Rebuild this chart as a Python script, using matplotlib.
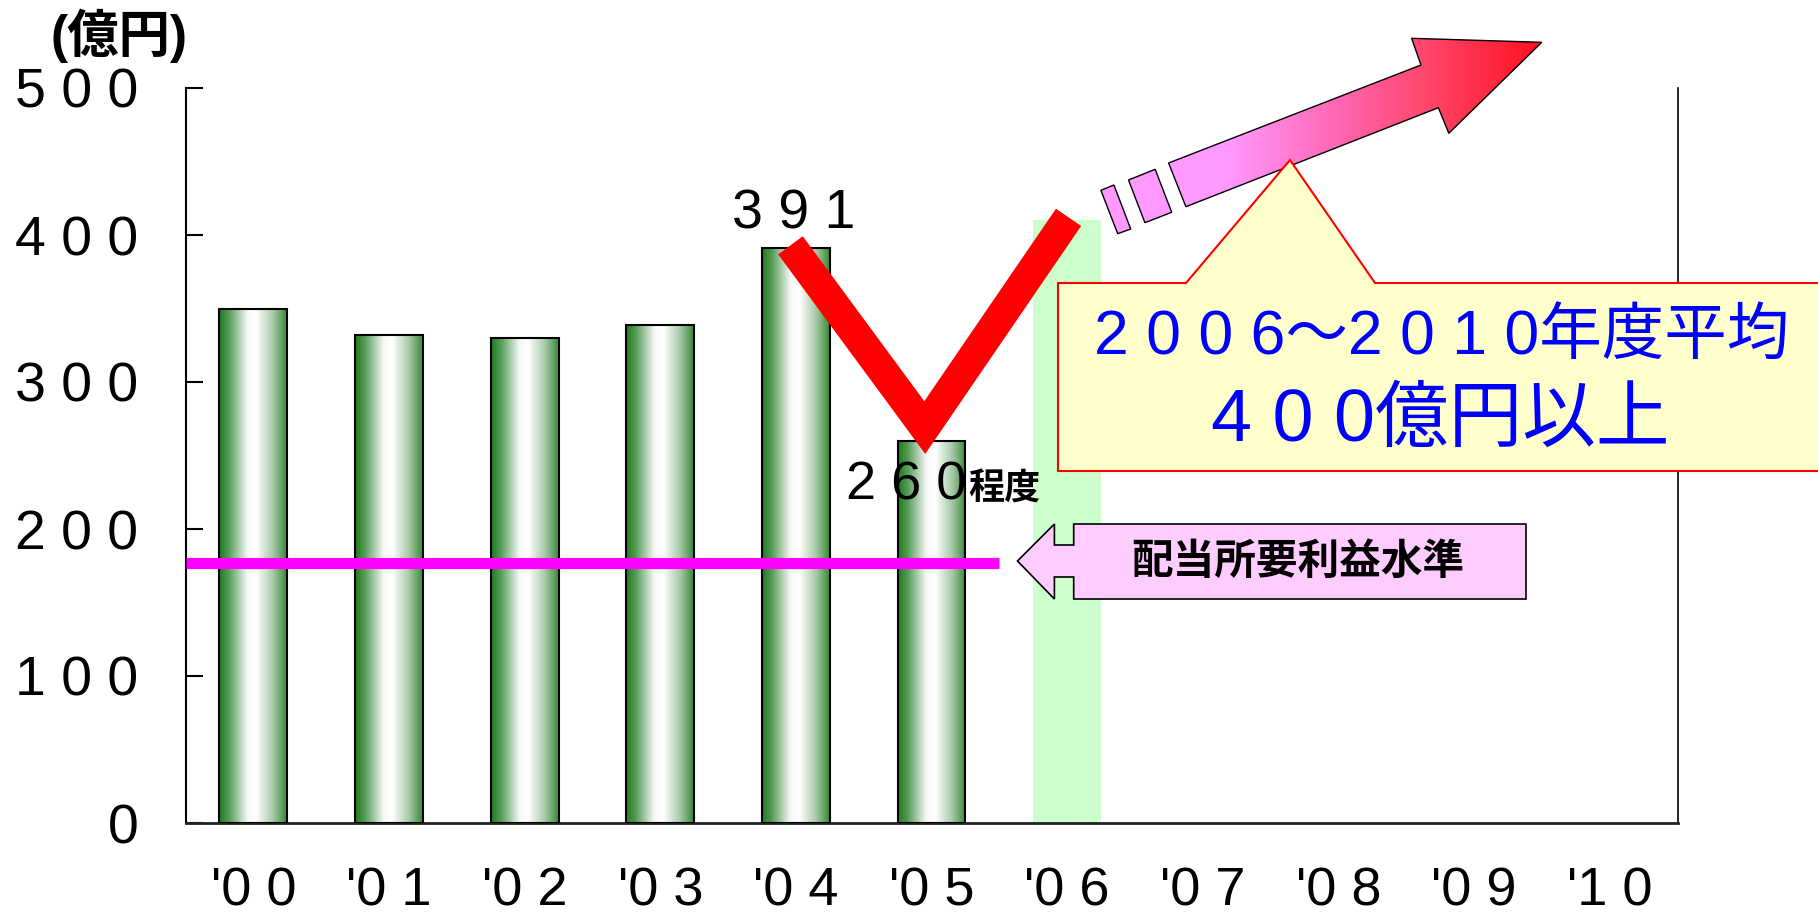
import numpy as np
import matplotlib
matplotlib.use("Agg")
import matplotlib.pyplot as plt
from matplotlib.colors import LinearSegmentedColormap
from matplotlib.patches import Polygon
from matplotlib.ticker import FuncFormatter, MultipleLocator

plt.rcParams["font.family"] = ["Liberation Sans", "Noto Sans CJK JP"]

# fiscal years and profit (億円)
years = ["00", "01", "02", "03", "04", "05", "06", "07", "08", "09", "10"]
profits = [350, 332, 330, 339, 391, 260]
target_2006 = 410
dividend_level = 177

W, H = 1818, 919


def spaced(s):
    return " ".join(s)


fig = plt.figure(figsize=(W / 100, H / 100), dpi=100)
ax = fig.add_axes([185.5 / W, 1 - 823 / H, (1677.6 - 185.5) / W, (823 - 88) / H])

xs = np.arange(len(years))

# 2006 target slot
ax.bar(xs[6], target_2006, width=0.5, color="#CCFFCC", edgecolor="none", zorder=1)

# cylinder-shaded bars
bar_cmap = LinearSegmentedColormap.from_list("cyl", [
    (0.0, "#1C7A1C"), (0.15, "#5A9E5A"), (0.42, "#F6F9F6"),
    (0.55, "#FFFFFF"), (0.8, "#A6C8A6"), (1.0, "#358A35")])
grad = np.linspace(0, 1, 256).reshape(1, -1)
bars = ax.bar(xs[:len(profits)], profits, width=0.5, facecolor="none",
              edgecolor="black", linewidth=1.5, zorder=3)
for bar in bars:
    x0 = bar.get_x()
    ax.imshow(grad, cmap=bar_cmap, extent=(x0, x0 + bar.get_width(), 0, bar.get_height()),
              aspect="auto", interpolation="bicubic", zorder=2)

# dividend requirement line
ax.plot([-0.5, 5.5], [dividend_level, dividend_level], color="#FF00FF", lw=8,
        solid_capstyle="butt", zorder=4)

# V-shaped recovery mark
ax.plot([3.96, 4.95, 6.01], [393, 269, 412], color="#FF0000", lw=22,
        solid_capstyle="butt", solid_joinstyle="miter", zorder=5)

ax.annotate(spaced(str(profits[4])), xy=(4, profits[4]), xytext=(-2, 20),
            textcoords="offset pixels", ha="center", va="baseline", fontsize=40)
ax.annotate(spaced(str(profits[5])), xy=(5, profits[5]), xytext=(35, -59),
            textcoords="offset pixels", ha="right", va="baseline", fontsize=39, zorder=6)
ax.annotate("程度", xy=(5, profits[5]), xytext=(37, -59),
            textcoords="offset pixels", ha="left", va="baseline", fontsize=26,
            fontweight="bold", zorder=6)

ax.set_xlim(-0.5, 10.5)
ax.set_ylim(0, 500)
ax.yaxis.set_major_locator(MultipleLocator(100))
ax.yaxis.set_major_formatter(FuncFormatter(lambda v, p: spaced(str(int(v)))))
ax.set_xticks(xs)
ax.set_xticklabels(["'" + spaced(y) for y in years])
ax.tick_params(axis="y", direction="in", length=12, width=1.5, pad=34, labelsize=40)
ax.tick_params(axis="x", length=0, pad=31, labelsize=39)
ax.spines["top"].set_visible(False)
ax.spines["left"].set_linewidth(1.5)
ax.spines["right"].set_linewidth(1.2)
ax.spines["bottom"].set_linewidth(2)
ax.spines["bottom"].set_color("#222222")

fig.text(119 / W, 1 - 36 / H, "(億円)", ha="center", va="center", fontsize=37,
         fontweight="bold")

# overlay in pixel units for the callouts
deco = fig.add_axes([0, 0, 1, 1])
deco.set_axis_off()

arrow = Polygon([(1168.6, 163), (1421, 65), (1411.6, 38.3), (1541.8, 42.3),
                 (1448.8, 133.3), (1438.4, 107.7), (1185.9, 206.7)],
                closed=True, facecolor="none", edgecolor="black", lw=1, zorder=3)
deco.add_patch(arrow)
arrow_cmap = LinearSegmentedColormap.from_list("arr", [
    (0.0, "#FF99FF"), (0.3, "#FF99FF"), (0.55, "#FF66B0"),
    (0.75, "#FF4468"), (1.0, "#FF0F1E")])
img = deco.imshow(grad, cmap=arrow_cmap, extent=(1090, 1545, 240, 30),
                  aspect="auto", interpolation="bicubic", zorder=2)
img.set_clip_path(arrow)
for pts in ([(1100.9, 190.3), (1113.9, 185), (1130.7, 229), (1117.7, 233.7)],
            [(1128.5, 180), (1155.2, 169.3), (1171.7, 212.3), (1144.9, 222.7)]):
    deco.add_patch(Polygon(pts, closed=True, facecolor="#FF99FF", edgecolor="black",
                           lw=1, zorder=3))

callout = Polygon([(1058, 283), (1186, 283), (1290, 160), (1375, 283), (1830, 283),
                   (1830, 471), (1058, 471)], closed=True, facecolor="#FFFFCC",
                  edgecolor="#FF0000", lw=1.5, zorder=3)
deco.add_patch(callout)
deco.text(1442, 337, "2 0 0 6～2 0 1 0年度平均", ha="center", va="center",
          fontsize=45, color="#0000FF", zorder=4)
deco.text(1440, 421, "4 0 0億円以上", ha="center", va="center",
          fontsize=53, color="#0000FF", zorder=4)

level_arrow = Polygon([(1017.5, 561), (1054.4, 524), (1054.4, 545), (1073.7, 545),
                       (1073.7, 524), (1526, 524), (1526, 599), (1073.7, 599),
                       (1073.7, 577), (1054.4, 577), (1054.4, 599)],
                      closed=True, facecolor="#FFCCFF", edgecolor="black", lw=1.2, zorder=3)
deco.add_patch(level_arrow)
deco.text(1298, 563, "配当所要利益水準", ha="center", va="center", fontsize=30,
          fontweight="bold", zorder=4)

deco.set_xlim(0, W)
deco.set_ylim(H, 0)

fig.savefig("out.png", dpi=100)
